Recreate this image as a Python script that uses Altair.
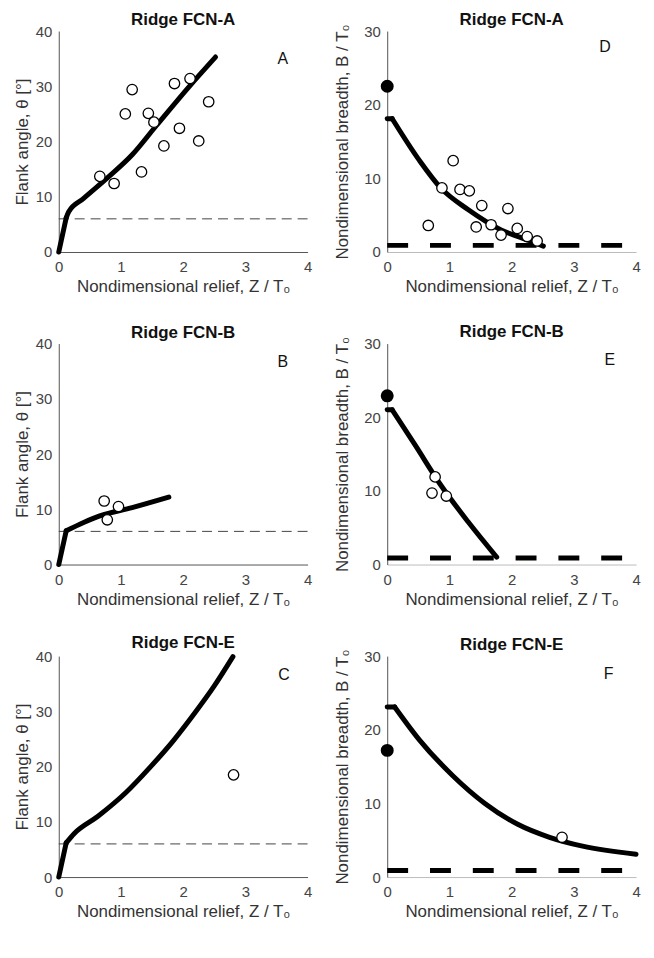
import altair as alt
import pandas as pd

FONT = "Liberation Sans"

# ---------------- data ----------------
# Panel A (Ridge FCN-A, flank angle)
a_curve_x = [0, 0.12, 0.16, 0.4, 0.79, 1.18, 1.57, 2.10, 2.52]
a_curve_y = [0, 6.2, 7.3, 9.7, 13.5, 17.6, 22.9, 30.0, 35.3]
a_pts_x = [0.66, 0.89, 1.07, 1.18, 1.33, 1.44, 1.53, 1.69, 1.86, 1.94, 2.11, 2.25, 2.41]
a_pts_y = [13.7, 12.4, 25.0, 29.4, 14.5, 25.1, 23.5, 19.2, 30.5, 22.4, 31.4, 20.1, 27.2]

# Panel B (Ridge FCN-B, flank angle)
b_curve_x = [0, 0.12, 0.4, 0.66, 1.18, 1.77]
b_curve_y = [0, 6.1, 7.6, 8.8, 10.3, 12.2]
b_pts_x = [0.73, 0.78, 0.96]
b_pts_y = [11.5, 8.1, 10.5]

# Panel C (Ridge FCN-E, flank angle)
c_curve_x = [0, 0.12, 0.25, 0.63, 1.08, 1.47, 1.85, 2.18, 2.5, 2.80]
c_curve_y = [0, 6.2, 7.9, 11.0, 15.3, 19.9, 24.8, 29.6, 34.6, 39.9]
c_pts_x = [2.81]
c_pts_y = [18.5]

# Panel D (Ridge FCN-A, breadth)
d_curve_x = [0, 0.08, 0.52, 0.86, 1.31, 1.83, 2.30, 2.51]
d_curve_y = [18.1, 18.1, 12.4, 8.7, 5.7, 3.0, 1.5, 0.8]
d_pts_x = [0.66, 0.88, 1.06, 1.17, 1.32, 1.43, 1.52, 1.67, 1.83, 1.94, 2.09, 2.25, 2.41]
d_pts_y = [3.6, 8.7, 12.4, 8.5, 8.3, 3.4, 6.3, 3.7, 2.3, 5.9, 3.2, 2.1, 1.5]
d_filled_y = 22.5

# Panel E (Ridge FCN-B, breadth)
e_curve_x = [0, 0.08, 0.45, 0.86, 1.30, 1.76]
e_curve_y = [21.0, 21.0, 16.2, 10.8, 5.8, 1.0]
e_pts_x = [0.77, 0.72, 0.95]
e_pts_y = [11.9, 9.7, 9.3]
e_filled_y = 22.9

# Panel F (Ridge FCN-E, breadth)
f_curve_x = [0, 0.12, 0.52, 1.05, 1.57, 2.09, 2.61, 3.14, 4.0]
f_curve_y = [23.1, 23.1, 18.6, 13.8, 10.0, 7.2, 5.4, 4.2, 3.1]
f_pts_x = [2.81]
f_pts_y = [5.4]
f_filled_y = 17.2

theta_threshold = 6.0
breadth_threshold = 0.9

titles = ["Ridge FCN-A", "Ridge FCN-B", "Ridge FCN-E"]

X_TITLE = "Nondimensional relief, Z / T\u2080"
Y_LEFT = "Flank angle, \u03b8 [\u00b0]"
Y_RIGHT = "Nondimensional breadth, B / T\u2080"

W, H = 250, 222


def panel(title, letter, letter_xy, cx, cy, px, py, ymax, thr, right, filled=None):
    xs = alt.Scale(domain=[0, 4], nice=False, padding=0, zero=False)
    ys = alt.Scale(domain=[0, ymax], nice=False, padding=0, zero=False)
    x_axis = alt.Axis(values=[0, 1, 2, 3, 4], format="d", title=X_TITLE,
                      domainColor="#bbb" if right else "#555",
                      labelFlush=False, labelPadding=8, titlePadding=4)
    y_axis = alt.Axis(values=list(range(0, ymax + 1, 10)), format="d",
                      title=Y_RIGHT if right else Y_LEFT, labelFlush=False,
                      labelPadding=7, titlePadding=12 if right else 4)
    X = lambda: alt.X("x:Q", scale=xs, axis=x_axis)
    Y = lambda: alt.Y("y:Q", scale=ys, axis=y_axis)

    thr_df = pd.DataFrame({"x": [0, 4], "y": [thr, thr]})
    if right:
        thr_layer = alt.Chart(thr_df).mark_line(color="black", strokeWidth=5,
                                                 strokeDash=[21, 22], strokeCap="butt")
    else:
        thr_layer = alt.Chart(thr_df).mark_line(color="#444", strokeWidth=1,
                                                 strokeDash=[10, 6])
    thr_layer = thr_layer.encode(x=X(), y=Y())

    # first segment (kink) straight, remainder smooth
    seg1 = pd.DataFrame({"x": cx[:2], "y": cy[:2], "o": [0, 1]})
    seg2 = pd.DataFrame({"x": cx[1:], "y": cy[1:], "o": list(range(len(cx) - 1))})
    c1 = alt.Chart(seg1).mark_line(color="black", strokeWidth=5, strokeCap="round",
                                   interpolate="linear").encode(x=X(), y=Y(), order="o:Q")
    c2 = alt.Chart(seg2).mark_line(color="black", strokeWidth=5, strokeCap="round",
                                   interpolate="monotone").encode(x=X(), y=Y(), order="o:Q")

    pts_df = pd.DataFrame({"x": px, "y": py})
    pts = alt.Chart(pts_df).mark_point(shape="circle", filled=True, fill="white",
                                       stroke="black", strokeWidth=1.3, size=110,
                                       opacity=1).encode(x=X(), y=Y())

    lab_df = pd.DataFrame({"x": [letter_xy[0]], "y": [letter_xy[1]], "t": [letter]})
    lab = alt.Chart(lab_df).mark_text(font=FONT, fontSize=16, color="#111",
                                      align="center", baseline="middle").encode(
        x=X(), y=Y(), text="t:N")

    layers = [thr_layer, c1, c2, pts, lab]
    if filled is not None:
        f_df = pd.DataFrame({"x": [0], "y": [filled]})
        layers.append(alt.Chart(f_df).mark_point(shape="circle", filled=True, color="black",
                                                 size=170, opacity=1).encode(x=X(), y=Y()))
    return alt.layer(*layers).properties(width=W, height=H, title=title)


pA = panel(titles[0], "A", (3.6, 34.9), a_curve_x, a_curve_y, a_pts_x, a_pts_y, 40, theta_threshold, False)
pB = panel(titles[1], "B", (3.6, 36.6), b_curve_x, b_curve_y, b_pts_x, b_pts_y, 40, theta_threshold, False)
pC = panel(titles[2], "C", (3.62, 36.5), c_curve_x, c_curve_y, c_pts_x, c_pts_y, 40, theta_threshold, False)
pD = panel(titles[0], "D", (3.5, 27.8), d_curve_x, d_curve_y, d_pts_x, d_pts_y, 30, breadth_threshold, True, d_filled_y)
pE = panel(titles[1], "E", (3.58, 27.7), e_curve_x, e_curve_y, e_pts_x, e_pts_y, 30, breadth_threshold, True, e_filled_y)
pF = panel(titles[2], "F", (3.56, 27.6), f_curve_x, f_curve_y, f_pts_x, f_pts_y, 30, breadth_threshold, True, f_filled_y)

chart = alt.concat(pA, pD, pB, pE, pC, pF, columns=2,
                   spacing={"row": 92, "column": 80}, bounds="flush").properties(
    padding={"left": 5, "top": 0, "right": 0, "bottom": 0}
).configure_view(stroke=None).configure_axis(
    grid=False, ticks=False, domainColor="#555", domainWidth=1,
    labelFont=FONT, labelFontSize=15, labelColor="#444",
    titleFont=FONT, titleFontSize=17, titleFontWeight="normal", titleColor="#333",
).configure_title(font=FONT, fontSize=17, fontWeight="bold", color="#111",
                  anchor="middle", offset=-5)

chart.save("out.html", embed_options={"renderer": "svg", "actions": False})
